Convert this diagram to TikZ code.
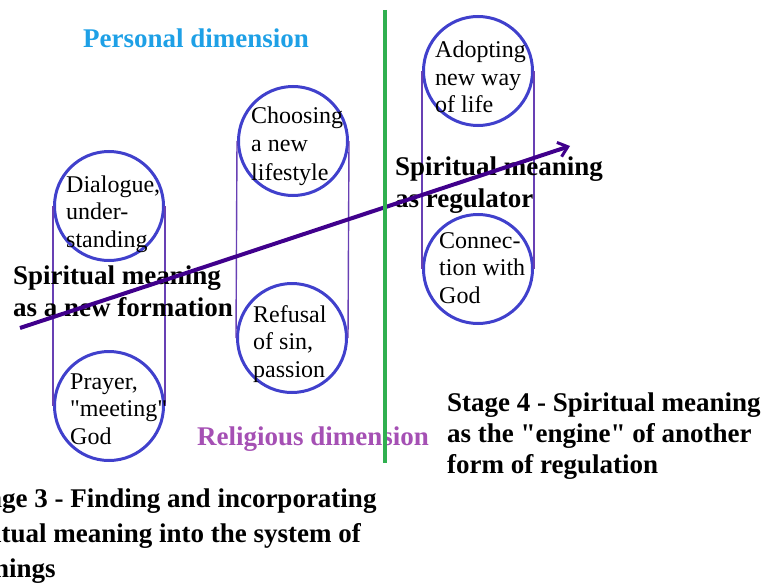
\documentclass[tikz,border=0pt]{standalone}
\usepackage{fontspec}
\setmainfont{Liberation Serif}[Ligatures=TeXOff]
\usetikzlibrary{arrows.meta}

\definecolor{ringblue}{RGB}{64,64,204}
\definecolor{linkpurple}{RGB}{104,64,180}
\definecolor{arrowpurple}{RGB}{64,0,140}
\definecolor{dividergreen}{RGB}{48,176,80}
\definecolor{personalblue}{RGB}{30,160,230}
\definecolor{religiouspurple}{RGB}{165,80,180}

\begin{document}
\begin{tikzpicture}[x=1pt,y=-1pt,
  ring/.style={circle,draw=ringblue,line width=3pt,minimum size=109pt,inner sep=0pt},
  link/.style={draw=linkpurple,line width=1.4pt},
  % multi-line nodes: the base anchor sits on the last line
  ringtext/.style={anchor=base west,inner sep=0pt,align=left,
    font=\fontsize{24}{27.5}\selectfont},
  boldtext/.style={anchor=base west,inner sep=0pt,align=left,
    font=\fontsize{27}{31.5}\selectfont\bfseries},
  divider/.style={draw=dividergreen,line width=4pt},
  growth/.style={draw=arrowpurple,line width=4pt,
    -{Straight Barb[length=9pt,width=15pt,line width=3pt]}}]

\useasboundingbox (0,0) rectangle (770,583);

% three pairs of rings, each pair joined into a capsule
\node[ring] (dialogue) at (109,206) {};
\node[ring] (prayer)   at (109,406) {};
\node[ring] (choosing) at (293,141) {};
\node[ring] (refusal)  at (292,338) {};
\node[ring] (adopting) at (478,71)  {};
\node[ring] (connect)  at (478,269) {};

\draw[link] (dialogue.west) -- (prayer.west);
\draw[link] (dialogue.east) -- (prayer.east);
\draw[link] (choosing.west) -- (refusal.west);
\draw[link] (choosing.east) -- (refusal.east);
\draw[link] (adopting.west) -- (connect.west);
\draw[link] (adopting.east) -- (connect.east);

% ring contents
\node[ringtext] (tdialogue) at (66,247)  {Dialogue,\\under-\\standing};
\node[ringtext] (tprayer)   at (70,444)  {Prayer,\\"meeting"\\God};
\node[ringtext,font=\fontsize{24}{28.5}\selectfont] (tchoosing) at (251,180) {Choosing\\a new\\lifestyle};
\node[ringtext] (trefusal)  at (253,377) {Refusal\\of sin,\\passion};
\node[ringtext] (tadopting) at (435,113) {Adopting\\new way\\of life};
\node[ringtext] (tconnect)  at (439,303) {Connec-\\tion with\\God};

% headings and captions
\node[boldtext,text=personalblue]    (personal)  at (83,48)   {Personal dimension};
\node[boldtext,text=religiouspurple] (religious) at (197,445) {Religious dimension};
\node[boldtext] (formation) at (13,316)  {Spiritual meaning\\as a new formation};
\node[boldtext] (regulator) at (395,207) {Spiritual meaning\\as regulator};
\node[boldtext,font=\fontsize{27}{31}\selectfont\bfseries] (stagefour) at (447,473)
  {Stage 4 - Spiritual meaning\\as the "engine" of another\\form of regulation};
\node[boldtext,font=\fontsize{27}{35}\selectfont\bfseries] (stagethree) at (-35.5,577)
  {Stage 3 - Finding and incorporating\\\hspace*{-15.5pt}spiritual meaning into the system of\\\hspace*{-18.5pt}meanings};

% rising arrow and the green divider
\coordinate (growstart) at (20,328);
\coordinate (growend)   at (570,146);
\draw[growth] (growstart) -- (growend);

\coordinate (divtop) at (385,10);
\coordinate (divbot) at (385,463);
\draw[divider] (divtop) -- (divbot);

\end{tikzpicture}
\end{document}
